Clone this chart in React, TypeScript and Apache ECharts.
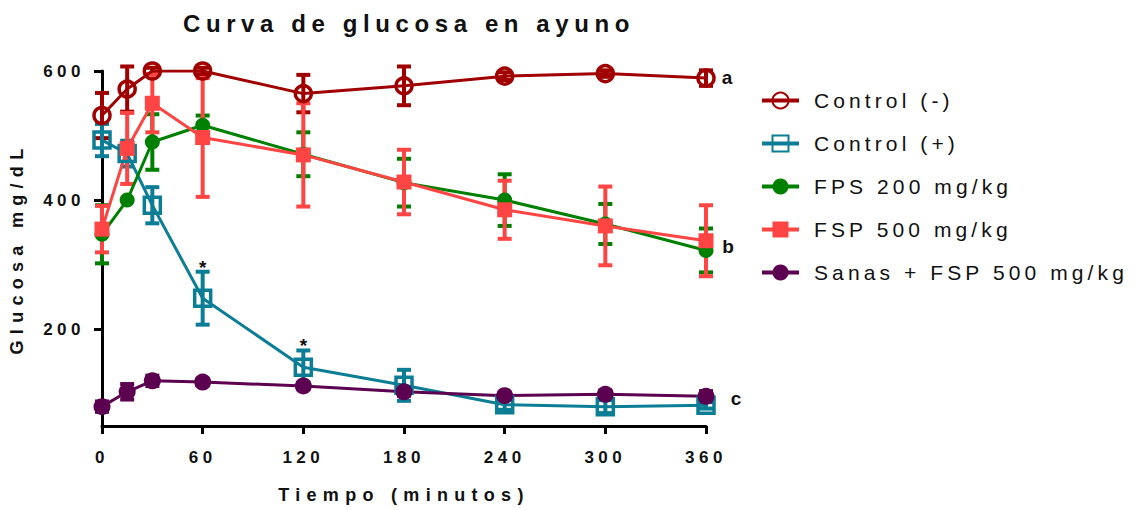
import React, { useEffect, useRef } from "react";
import * as echarts from "echarts";

const times = [0, 15, 30, 60, 120, 180, 240, 300, 360];
const xTicks = [0, 60, 120, 180, 240, 300, 360];
const yTicks = [200, 400, 600];

const controlNegMean = [531, 572, 600, 600, 565, 577, 592, 596, 589];
const controlNegSem = [35, 35, 5, 5, 29, 30, 6, 5, 12];
const controlPosMean = [493, 472, 392, 248, 141, 113, 83, 80, 82];
const controlPosSem = [25, 20, 28, 41, 26, 24, 8, 10, 5];
const fps200Mean = [347, 400, 490, 516, 471, 427, 400, 363, 322];
const fps200Sem = [45, 0, 43, 15, 34, 37, 40, 31, 34];
const fsp500Mean = [355, 480, 550, 497, 470, 428, 385, 360, 337];
const fsp500Sem = [36, 55, 45, 92, 80, 50, 45, 61, 55];
const sanasMean = [80, 103, 120, 118, 112, 103, 97, 99, 96];
const sanasSem = [8, 12, 8, 5, 5, 6, 5, 6, 8];

const seriesNames = [
  "Control (-)",
  "Control (+)",
  "FPS 200 mg/kg",
  "FSP 500 mg/kg",
  "Sanas + FSP 500 mg/kg",
];
const colors = ["#a00000", "#0b7e96", "#008000", "#ff4444", "#5c0050"];
const means = [controlNegMean, controlPosMean, fps200Mean, fsp500Mean, sanasMean];
const sems = [controlNegSem, controlPosSem, fps200Sem, fsp500Sem, sanasSem];
const symbols = ["circle", "rect", "circle", "rect", "circle"];
const symbolSizes = [16, 16, 15, 15, 17];
const hollow = [true, true, false, false, false];

const FONT = "'Liberation Sans', Arial, sans-serif";

export default function App() {
  const ref = useRef<HTMLDivElement>(null);
  useEffect(() => {
    if (!ref.current) return;
    const chart = echarts.init(ref.current, null, { renderer: "svg" });

    const lineSeries: any[] = seriesNames.map((name, i) => ({
      name,
      type: "line",
      z: 4,
      data: times.map((t, k) => [t, means[i][k]]),
      symbol: symbols[i],
      symbolSize: symbolSizes[i],
      showAllSymbol: true,
      lineStyle: { color: colors[i], width: 3 },
      itemStyle: hollow[i]
        ? { color: "rgba(255,255,255,0)", borderColor: colors[i], borderWidth: 3.5 }
        : { color: colors[i], borderColor: colors[i], borderWidth: 0 },
      emphasis: { disabled: true },
    }));

    const errSeries: any[] = seriesNames.map((name, i) => ({
      name: name + " SEM",
      type: "custom",
      z: 3,
      data: times
        .map((t, k) => [t, means[i][k] - sems[i][k], means[i][k] + sems[i][k], sems[i][k]])
        .filter((d) => d[3] > 0),
      renderItem: (_params: any, api: any) => {
        const x = api.value(0);
        const lo = api.coord([x, api.value(1)]);
        const hi = api.coord([x, api.value(2)]);
        const hw = 7;
        const style = { stroke: colors[i], lineWidth: 4 };
        return {
          type: "group",
          children: [
            { type: "line", shape: { x1: lo[0], y1: lo[1], x2: hi[0], y2: hi[1] }, style },
            { type: "line", shape: { x1: lo[0] - hw, y1: lo[1], x2: lo[0] + hw, y2: lo[1] }, style },
            { type: "line", shape: { x1: hi[0] - hw, y1: hi[1], x2: hi[0] + hw, y2: hi[1] }, style },
          ],
        };
      },
      encode: { x: 0, y: [1, 2] },
      silent: true,
    }));

    const annLabel = {
      show: true,
      formatter: "{b}",
      color: "#111",
      fontSize: 19,
      fontWeight: "bold",
      fontFamily: FONT,
    };
    const mp = (items: any[]) => ({
      symbol: "circle",
      symbolSize: 1,
      itemStyle: { color: "rgba(0,0,0,0)" },
      silent: true,
      data: items.map((it) => ({ ...it, label: { ...annLabel, offset: it.offset } })),
    });
    lineSeries[0].markPoint = mp([{ name: "a", coord: [360, controlNegMean[8]], offset: [21, -1] }]);
    lineSeries[2].markPoint = mp([{ name: "b", coord: [360, fps200Mean[8]], offset: [22, -4] }]);
    lineSeries[4].markPoint = mp([{ name: "c", coord: [360, sanasMean[8]], offset: [30, 2] }]);
    lineSeries[1].markPoint = mp([
      { name: "*", coord: [60, controlPosMean[3]], offset: [0, -31] },
      { name: "*", coord: [120, controlPosMean[4]], offset: [0, -22] },
    ]);

    chart.setOption({
      animation: false,
      title: {
        text: "Curva de glucosa en ayuno",
        left: 404,
        top: 6,
        textAlign: "center",
        textStyle: { fontSize: 24, fontWeight: "bold", color: "#111", fontFamily: FONT },
      },
      legend: {
        data: seriesNames,
        orient: "vertical",
        left: 755,
        top: 85,
        itemWidth: 37,
        itemHeight: 20,
        itemGap: 22,
        selectedMode: false,
        lineStyle: { width: 4 },
        textStyle: { fontSize: 21, color: "#111", fontFamily: FONT, padding: [0, 0, 0, 10] },
      },
      grid: { left: 102, right: 430, top: 71, bottom: 84 },
      xAxis: {
        type: "value",
        min: 0,
        max: 360,
        interval: 60,
        name: "Tiempo (minutos)",
        nameLocation: "middle",
        nameGap: 60,
        nameTextStyle: { fontSize: 18, fontWeight: "bold", color: "#111", fontFamily: FONT },
        axisLine: { show: true, lineStyle: { color: "#000", width: 3 } },
        axisTick: { show: true, length: 8, lineStyle: { color: "#000", width: 3 }, customValues: xTicks },
        axisLabel: { fontSize: 17, fontWeight: "bold", color: "#111", margin: 23, fontFamily: FONT, customValues: xTicks },
        splitLine: { show: false },
      },
      yAxis: {
        type: "value",
        min: 50,
        max: 600,
        name: "Glucosa mg/dL",
        nameLocation: "middle",
        nameGap: 76,
        nameTextStyle: { fontSize: 18, fontWeight: "bold", color: "#111", fontFamily: FONT },
        axisLine: { show: true, lineStyle: { color: "#000", width: 3 } },
        axisTick: { show: true, length: 8, lineStyle: { color: "#000", width: 3 }, customValues: yTicks },
        axisLabel: { fontSize: 17, fontWeight: "bold", color: "#111", margin: 17, fontFamily: FONT, customValues: yTicks },
        splitLine: { show: false },
      },
      series: [...errSeries, ...lineSeries],
    });
    return () => chart.dispose();
  }, []);

  return (
    <>
      <style>{`
        .chartbox text[style*="24px"] { letter-spacing: 5.6px; }
        .chartbox text[style*="21px"] { letter-spacing: 4.1px; }
        .chartbox text[style*="18px"] { letter-spacing: 6.3px; }
        .chartbox text[style*="17px"] { letter-spacing: 4.5px; }
      `}</style>
      <div
        ref={ref}
        className="chartbox"
        style={{ position: "fixed", left: 0, top: 0, width: 1136, height: 510, background: "#fff" }}
      />
    </>
  );
}
